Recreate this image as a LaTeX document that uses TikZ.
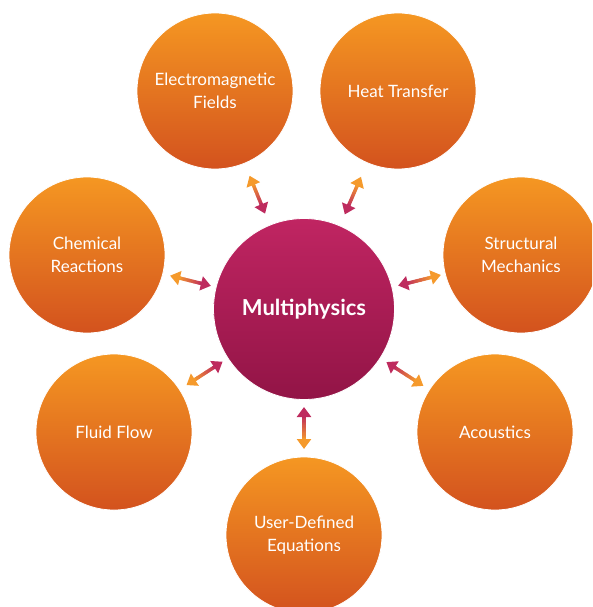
\documentclass[tikz,border=0pt]{standalone}
\usepackage{fontspec}
\setmainfont{Lato}
\usetikzlibrary{calc,arrows.meta}

\definecolor{orTop}{HTML}{F59722}
\definecolor{orBot}{HTML}{D3521E}
\definecolor{mgTop}{HTML}{C02562}
\definecolor{mgBot}{HTML}{921446}
\definecolor{arrOut}{HTML}{F59A2C}
\definecolor{arrIn}{HTML}{BE2B5E}

% double-headed link from the hub towards a topic: #1 topic node,
% #2 distance of the inner tip from the hub centre, #3 distance of the outer tip
\newcommand\hublink[3]{%
  \coordinate (ain) at ($(mp)!#2pt!(#1)$);
  \coordinate (aout) at ($(mp)!#3pt!(#1)$);
  \coordinate (sin) at ($(ain)!8pt!(aout)$);
  \coordinate (sout) at ($(aout)!8pt!(ain)$);
  \foreach \i in {0,...,19}{%
    \pgfmathsetmacro\ta{\i/20}%
    \pgfmathsetmacro\tb{min(1,(\i+1.5)/20)}%
    \pgfmathtruncatemacro\pc{100-100*\i/19}%
    \draw[shaft, draw=arrIn!\pc!arrOut] ($(sin)!\ta!(sout)$) -- ($(sin)!\tb!(sout)$);
  }
  \draw[shaft, draw=arrIn, -{Triangle[width=14pt,length=10pt]}] ($(ain)!11pt!(aout)$) -- (ain);
  \draw[shaft, draw=arrOut, -{Triangle[width=14pt,length=10pt]}] ($(aout)!11pt!(ain)$) -- (aout);
}

\begin{document}
\begin{tikzpicture}[x=1pt,y=-1pt,
  topic/.style={circle, minimum size=156pt, inner sep=0pt,
    top color=orTop, bottom color=orBot,
    draw=white, line width=0.8pt, text=white, align=center,
    font=\fontsize{17}{23}\selectfont},
  hub/.style={circle, minimum size=181pt, inner sep=0pt,
    top color=mgTop, bottom color=mgBot,
    draw=white, line width=0.8pt, text=white,
    font=\fontsize{22}{26}\selectfont\bfseries},
  shaft/.style={line width=3.4pt, line cap=butt}]

\useasboundingbox (0,0) rectangle (592,607);
\clip (0,0) rectangle (592,607);

\node[hub] (mp) at (304,309) {Multiphysics};

\node[topic] (em)  at (215,91)  {Electromagnetic\\Fields};
\node[topic] (ht)  at (398,91)  {Heat Transfer};
\node[topic] (cr)  at (87,255)  {Chemical\\Reactions};
\node[topic] (sm)  at (521,255) {Structural\\Mechanics};
\node[topic] (ff)  at (114,432) {Fluid Flow};
\node[topic] (ac)  at (495,432) {Acoustics};
\node[topic] (ude) at (304,535) {User-Defined\\Equations};

\hublink{em}{103}{144}
\hublink{ht}{103}{144}
\hublink{cr}{96}{138}
\hublink{sm}{97}{141}
\hublink{ff}{97}{140}
\hublink{ac}{98}{142}
\hublink{ude}{98}{140}
\end{tikzpicture}
\end{document}
